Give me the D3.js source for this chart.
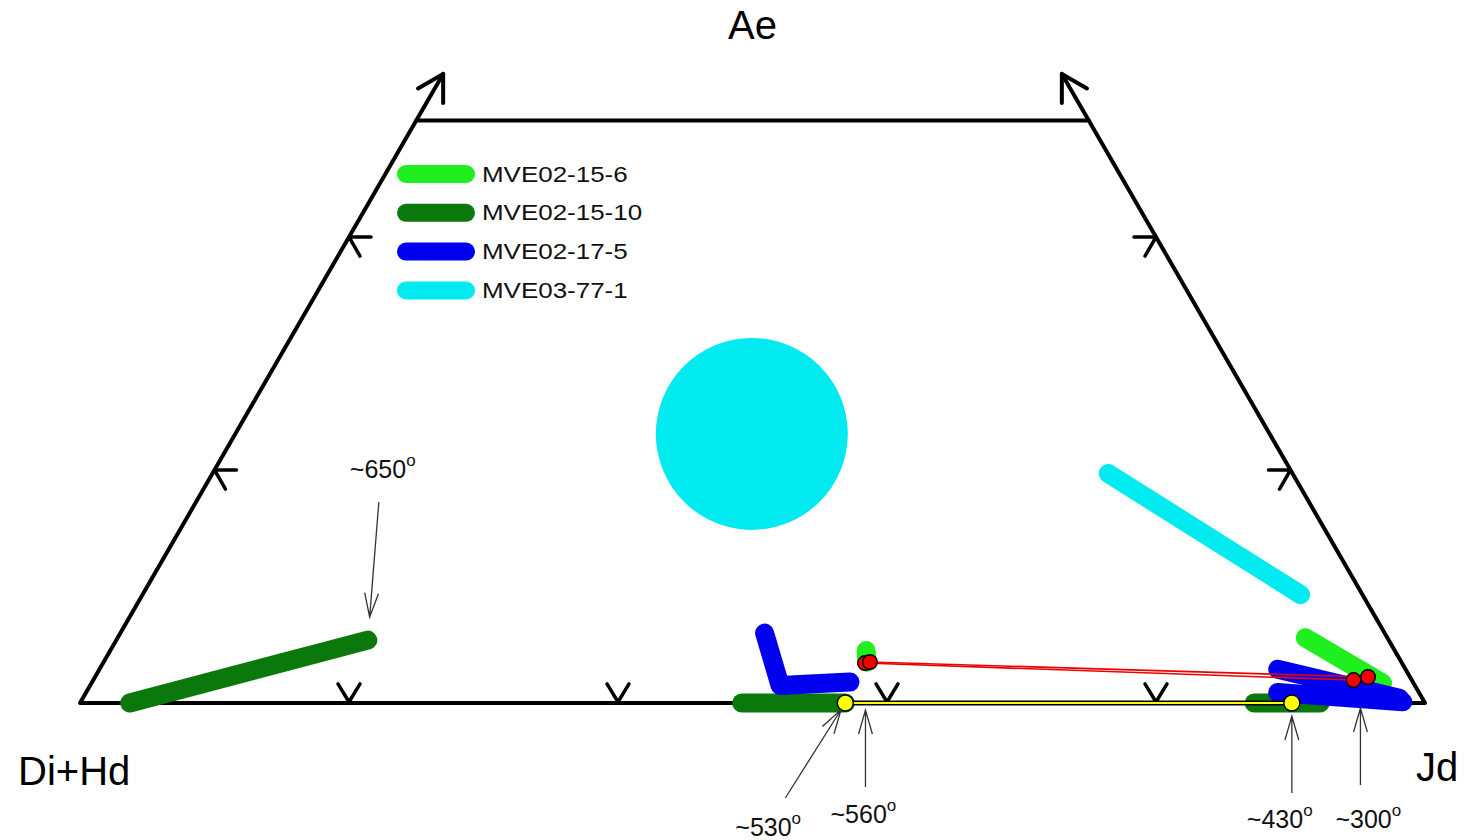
<!DOCTYPE html>
<html>
<head>
<meta charset="utf-8">
<script src="https://cdn.jsdelivr.net/npm/d3@7"></script>
<style>
  html, body { margin: 0; padding: 0; background: #ffffff; }
  svg { display: block; font-family: "Liberation Sans", Arial, sans-serif; }
</style>
</head>
<body>
<svg id="chart" width="1472" height="840"></svg>
<script>
// ---------- data (ternary percentages: [Jd, Ae]; Di+Hd = 100 - Jd - Ae) ----------
const samples = ["MVE02-15-6", "MVE02-15-10", "MVE02-17-5", "MVE03-77-1"];
const sampleColors = ["#1fee1f", "#0a780a", "#0000ee", "#00eaf0"];

const trendsMVE02_15_6  = [[[88.3, 5.6], [96.0, 1.7]], [[56.2, 4.5], [56.75, 3.5]]];
const trendsMVE02_15_10 = [[[3.7, 0], [18.7, 5.4]], [[49.2, 0], [56.9, 0]], [[87.3, 0], [92.2, 0]]];
const trendsMVE02_17_5  = [[[47.9, 6.0], [51.3, 1.5], [56.35, 1.8]],
                           [[87.6, 2.9], [97.9, 0.4]],
                           [[88.6, 0.9], [98.3, 0.1]]];
const trendsMVE03_77_1  = [[[66.6, 19.7], [86.1, 9.3]]];
const clusterMVE03_77_1 = [38.4, 23.1];

const redPoints    = [[56.65, 3.43], [56.97, 3.52], [93.7, 1.97], [94.65, 2.23]];
const redLinks     = [[0, 2], [1, 3]];
const yellowPoints = [[56.9, 0], [90.1, 0]];

const annoLabels  = ["~650", "~530", "~560", "~430", "~300"];
const annoTargets = [[18.7, 5.4], [56.9, 0], [58.4, 0], [90.1, 0], [95.2, 0]];

const bottomTicks = [20, 40, 60, 80];
const sideTicks   = [20, 40];
const frameTop    = 50;   // truncated at Ae = 50 %
const arrowTop    = 54;

// ---------- scales ----------
const svg = d3.select("#chart");
const xS = d3.scaleLinear().domain([0, 100]).range([80, 1425]);
const yS = d3.scaleLinear().domain([0, 100]).range([703, 703 - 1165]);
const proj = ([jd, ae]) => [xS(jd + ae / 2), yS(ae)];
const line = d3.line().x(d => proj(d)[0]).y(d => proj(d)[1]);

// ---------- frame ----------
const gFrame = svg.append("g").attr("stroke", "#000").attr("fill", "none")
  .attr("stroke-linecap", "round").attr("stroke-linejoin", "round");
gFrame.append("path").attr("stroke-width", 4)
  .attr("d", line([[0, 0], [0, frameTop], [100 - frameTop, frameTop], [100, 0]]) + "Z");
// extensions with arrowheads
[[[0, frameTop], [0, arrowTop], -1], [[100 - frameTop, frameTop], [100 - arrowTop, arrowTop], 1]].forEach(([a, b, s]) => {
  const p = proj(b);
  gFrame.append("path").attr("stroke-width", 4).attr("d", line([a, b]));
  const L = 29;
  gFrame.append("path").attr("stroke-width", 4)
    .attr("d", `M${p[0] + s * L * 0.866},${p[1] + L * 0.5} L${p[0]},${p[1]} L${p[0]},${p[1] + L}`);
});
// ticks
const TL = 22;
bottomTicks.forEach(t => {
  const p = proj([t, 0]);
  gFrame.append("path").attr("stroke-width", 3.5)
    .attr("d", `M${p[0] - TL * 0.5},${p[1] - TL * 0.866} L${p[0]},${p[1] - 1} L${p[0] + TL * 0.5},${p[1] - TL * 0.866}`);
});
sideTicks.forEach(t => {
  const p = proj([0, t]);
  gFrame.append("path").attr("stroke-width", 3.5)
    .attr("d", `M${p[0] + TL},${p[1]} L${p[0]},${p[1]} L${p[0] + TL * 0.5},${p[1] + TL * 0.866}`);
  const q = proj([100 - t, t]);
  gFrame.append("path").attr("stroke-width", 3.5)
    .attr("d", `M${q[0] - TL},${q[1]} L${q[0]},${q[1]} L${q[0] - TL * 0.5},${q[1] + TL * 0.866}`);
});

// ---------- corner labels ----------
const lab = svg.append("g").attr("font-size", 40).attr("fill", "#000");
lab.append("text").attr("x", xS(50)).attr("y", 39).attr("text-anchor", "middle").text("Ae");
lab.append("text").attr("x", 18).attr("y", 785).text("Di+Hd");
lab.append("text").attr("x", 1416).attr("y", 781).text("Jd");

// ---------- data trends ----------
const gData = svg.append("g").attr("fill", "none").attr("stroke-linecap", "round").attr("stroke-linejoin", "round");
// cyan cluster
gData.append("circle").attr("cx", proj(clusterMVE03_77_1)[0]).attr("cy", proj(clusterMVE03_77_1)[1])
  .attr("r", 96).attr("fill", sampleColors[3]).attr("stroke", "none");
const drawTrends = (arr, color) => arr.forEach(seg =>
  gData.append("path").attr("d", line(seg)).attr("stroke", color).attr("stroke-width", 19));
drawTrends(trendsMVE03_77_1, sampleColors[3]);
drawTrends(trendsMVE02_15_10, sampleColors[1]);
drawTrends(trendsMVE02_15_6, sampleColors[0]);
drawTrends(trendsMVE02_17_5, sampleColors[2]);

// yellow tie line
gData.append("path").attr("d", line(yellowPoints)).attr("stroke", "#000").attr("stroke-width", 5).attr("stroke-linecap", "butt");
gData.append("path").attr("d", line(yellowPoints)).attr("stroke", "#ffff00").attr("stroke-width", 2.2).attr("stroke-linecap", "butt");
// red tie lines
redLinks.forEach(([a, b]) =>
  gData.append("path").attr("d", line([redPoints[a], redPoints[b]])).attr("stroke", "#ee0000").attr("stroke-width", 1.6));
// points
gData.selectAll("circle.red").data(redPoints).join("circle").attr("class", "red")
  .attr("cx", d => proj(d)[0]).attr("cy", d => proj(d)[1]).attr("r", 7.3)
  .attr("fill", "#ee0000").attr("stroke", "#000").attr("stroke-width", 1.4);
gData.selectAll("circle.yel").data(yellowPoints).join("circle").attr("class", "yel")
  .attr("cx", d => proj(d)[0]).attr("cy", d => proj(d)[1]).attr("r", 8)
  .attr("fill", "#ffff00").attr("stroke", "#000").attr("stroke-width", 1.4);

// ---------- annotations ----------
const annoTail = [[11, -138], [-60, 95], [0, 84], [0, 90], [0, 82]];
const annoGap  = [23, 8, 7, 13, 5];
const annoText = [[-29, -24], [-50, 38], [-35, 36], [-45, 35], [-25, 43]];
const gAnno = svg.append("g");
annoLabels.forEach((lbl, i) => {
  const p = proj(annoTargets[i]);
  const tail = [p[0] + annoTail[i][0], p[1] + annoTail[i][1]];
  const dx = p[0] - tail[0], dy = p[1] - tail[1];
  const len = Math.hypot(dx, dy), ux = dx / len, uy = dy / len;
  const tip = [p[0] - ux * annoGap[i], p[1] - uy * annoGap[i]];
  const AL = 25, ang = 16 * Math.PI / 180;
  const bx = -ux, by = -uy;
  const r1 = [bx * Math.cos(ang) - by * Math.sin(ang), bx * Math.sin(ang) + by * Math.cos(ang)];
  const r2 = [bx * Math.cos(-ang) - by * Math.sin(-ang), bx * Math.sin(-ang) + by * Math.cos(-ang)];
  gAnno.append("path").attr("fill", "none").attr("stroke", "#333").attr("stroke-width", 1.3)
    .attr("d", `M${tail[0]},${tail[1]} L${tip[0]},${tip[1]} M${tip[0] + r1[0] * AL},${tip[1] + r1[1] * AL} L${tip[0]},${tip[1]} L${tip[0] + r2[0] * AL},${tip[1] + r2[1] * AL}`);
  const t = gAnno.append("text").attr("x", tail[0] + annoText[i][0]).attr("y", tail[1] + annoText[i][1])
    .attr("font-size", 25).attr("fill", "#111");
  t.append("tspan").text(lbl);
  t.append("tspan").attr("font-size", 17).attr("dy", -12).text("o");
});

// ---------- legend ----------
const gLeg = svg.append("g");
samples.forEach((s, i) => {
  const cy = 174 + i * 38.8;
  gLeg.append("line").attr("x1", 406).attr("x2", 466).attr("y1", cy).attr("y2", cy)
    .attr("stroke", sampleColors[i]).attr("stroke-width", 18).attr("stroke-linecap", "round");
  gLeg.append("text").attr("transform", `translate(482,${cy + 7.5}) scale(1.18,1)`)
    .attr("font-size", 22).attr("fill", "#111").text(s);
});
</script>
</body>
</html>
